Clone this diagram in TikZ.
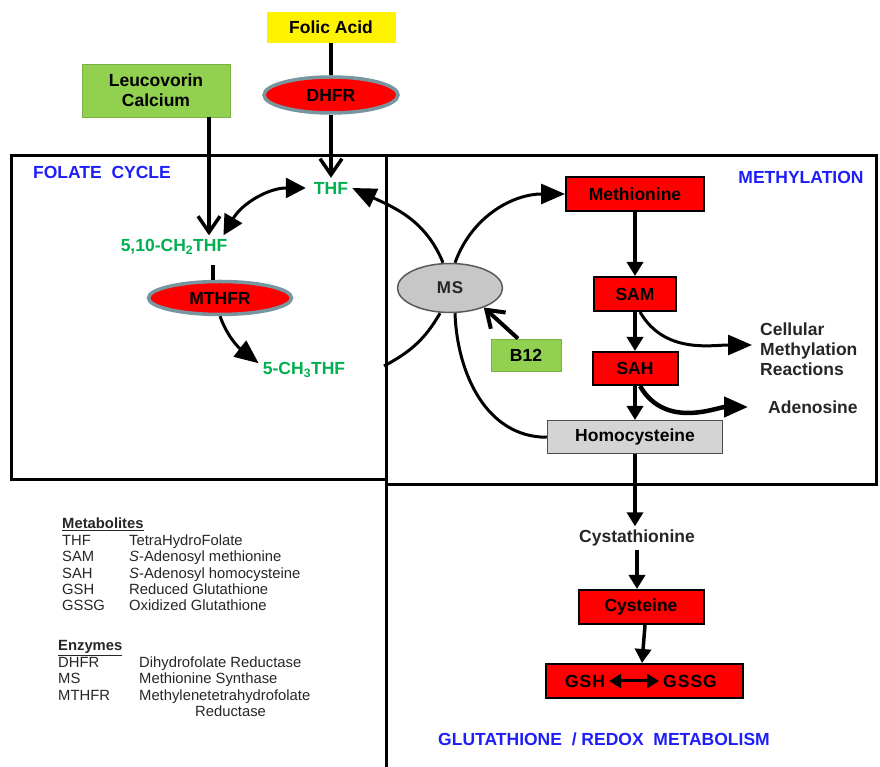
\documentclass[tikz,border=0pt]{standalone}
\usepackage{fontspec}
\setmainfont{Liberation Sans}
\usetikzlibrary{arrows.meta,positioning,shapes.geometric}
\definecolor{leafgreen}{RGB}{146,208,80}
\definecolor{cyclegreen}{RGB}{0,176,80}
\definecolor{headblue}{RGB}{30,30,250}
\definecolor{enzrim}{RGB}{120,150,160}

\begin{document}
\begin{tikzpicture}[x=1pt, y=1pt, font=\fontsize{17.5}{20}\selectfont\bfseries,
    bx/.style={draw=black, line width=2pt, fill=red, inner sep=0pt, minimum height=34pt},
    gb/.style={fill=leafgreen, draw=leafgreen!85!black, line width=0.8pt, inner sep=0pt, align=center},
    enz/.style={ellipse, draw=enzrim, line width=3.5pt, fill=red, inner sep=0pt},
    fol/.style={text=cyclegreen, inner sep=4pt},
    hd/.style={text=headblue, inner sep=0pt},
    leg/.style={font=\fontsize{14.8}{16.4}\selectfont, text=black!85, inner sep=0pt, anchor=base west},
    ar/.style={line width=3.5pt, -{Triangle[width=16pt,length=14pt]}},
    barb/.style={line width=3.5pt, -{Straight Barb[width=22pt,length=16pt]}},
    cur/.style={line width=3pt, -{Triangle[width=20pt,length=24pt]}}]
  \useasboundingbox (0,0) rectangle (880,767);
  % frames of the three regions
  \draw[line width=3pt] (11,611) rectangle (386,287);
  \draw[line width=3pt] (386,611) rectangle (876,282);
  \draw[line width=3pt] (386,282) -- (386,0);
  \node[hd] (folhd) at (102,595) {FOLATE\ \ CYCLE};
  \node[hd] (methd) at (801,590) {METHYLATION};
  \node[hd] (gluhd) at (604,28) {GLUTATHIONE\ \ / REDOX\ \ METABOLISM};

  % folate cycle
  \node[fill=yellow, inner sep=0pt, minimum width=129pt, minimum height=31pt] (fa) at (331,739.5) {Folic Acid};
  \node[enz, minimum width=134pt, minimum height=36pt] (dhfr) at (331,672) {DHFR};
  \node[gb, minimum width=148pt, minimum height=53pt] (leu) at (156,676.5) {Leucovorin\\Calcium};
  \node[fol] (thf) at (331,579) {THF};
  \node[fol] (f510) at (174,520) {5,10-CH\textsubscript{2}THF};
  \node[enz, minimum width=143pt, minimum height=33pt] (mthfr) at (220,469) {MTHFR};
  \node[fol] (ch3) at (304,397) {5-CH\textsubscript{3}THF};
  \draw[line width=3.5pt] (fa) -- (dhfr);
  \draw[barb] (dhfr) -- (thf);
  \draw[barb] ([xshift=53pt]leu.south) -- ([xshift=53pt]leu.south |- f510.north);
  \draw[line width=3pt, {Triangle[width=20pt,length=20pt]}-{Triangle[width=20pt,length=20pt]}]
    ([xshift=-8pt]f510.north east) to[bend left=30] ([xshift=-4pt]thf.west);
  \draw[line width=3.5pt, shorten <=6pt] ([xshift=39pt]f510.south) -- ([xshift=-7pt]mthfr.north);
  \draw[cur] (mthfr.south) to[out=-70, in=142] ([yshift=-5pt]ch3.north west);

  % methylation
  \node[ellipse, draw=black!65, fill=black!22, line width=1.5pt, inner sep=0pt, text=black!85,
    minimum width=105pt, minimum height=49pt, font=\fontsize{17}{18}\selectfont\bfseries] (ms) at (450,479) {M\kern1ptS};
  \node[gb, minimum width=70pt, minimum height=32pt] (b12) at (526,412) {B12};
  \node[bx, minimum width=138pt] (met) at (635,573) {Methionine};
  \node[bx, minimum width=82pt, below=64pt of met] (sam) {SAM};
  \node[bx, minimum width=85pt, minimum height=33pt, below=39pt of sam] (sah) {SAH};
  \node[draw=black!70, line width=1.5pt, fill=black!17, inner sep=0pt, minimum width=175pt,
    minimum height=33pt, below=34pt of sah] (hcy) {Homocysteine};
  \node[anchor=west, align=left, inner sep=0pt, text=black!85] (cell) at (760,418) {Cellular\\Methylation\\Reactions};
  \node[anchor=west, inner sep=0pt, text=black!85] (ade) at (768,360) {Adenosine};
  \coordinate (rim) at (384,401);
  \draw[cur] ([xshift=-7pt]ms.north) to[out=112, in=-25] (thf.east);
  \draw[cur] ([xshift=5pt]ms.north) to[out=70, in=180] (met.west);
  \draw[line width=3pt] (rim) to[out=28, in=-120] ([xshift=-10pt]ms.south);
  \draw[line width=3pt] ([xshift=5pt]ms.south) to[out=-88, in=180] (hcy.west);
  \draw[barb, line width=4pt] ([xshift=-8pt]b12.north) -- (ms.-30);
  \draw[ar] (met) -- (sam);
  \draw[ar] (sam) -- (sah);
  \draw[ar] (sah) -- (hcy);
  \draw[cur, shorten >=8pt] ([xshift=5pt]sam.south) to[out=-60, in=180] ([yshift=4pt]cell.west);
  \draw[cur, line width=4.5pt, shorten >=20pt] ([xshift=5pt]sah.south) to[out=-60, in=180] (ade.west);

  % glutathione / redox
  \node[text=black!85] (cysta) at (637,229) {Cystathionine};
  \node[bx, minimum width=125pt] (cyst) at (641,160) {Cysteine};
  \node[bx, minimum width=197pt] (gbox) at (644,86) {};
  \node[inner sep=4pt] (gsh) at (585,86) {G\kern1ptS\kern1ptH};
  \node[inner sep=4pt] (gssg) at (690,86) {G\kern1ptS\kern1ptS\kern1ptG};
  \draw[ar] (hcy.south) -- (hcy.south |- cysta.north);
  \draw[ar] (cysta) -- (cysta |- cyst.north);
  \draw[ar] ([xshift=4pt]cyst.south) -- ([xshift=-2pt]gbox.north);
  \draw[line width=3pt, {Triangle[width=14pt,length=12pt]}-{Triangle[width=14pt,length=12pt]}] (gsh) -- (gssg);

  % legend
  \node[leg] (metab) at (62,238) {\begin{tabular}[t]{@{}p{67pt}@{}l@{}}
    \multicolumn{2}{@{}l@{}}{\textbf{\underline{Metabolites}}}\\
    THF & TetraHydroFolate\\
    SAM & \textit{S}-Adenosyl methionine\\
    SAH & \textit{S}-Adenosyl homocysteine\\
    GSH & Reduced Glutathione\\
    GSSG & Oxidized Glutathione
  \end{tabular}};
  \node[leg] (enzy) at (58,116) {\begin{tabular}[t]{@{}p{81pt}@{}l@{}}
    \multicolumn{2}{@{}l@{}}{\textbf{\underline{Enzymes}}}\\
    DHFR & Dihydrofolate Reductase\\
    MS & Methionine Synthase\\
    MTHFR & Methylenetetrahydrofolate\\
     & \hspace{56pt}Reductase
  \end{tabular}};
\end{tikzpicture}
\end{document}
